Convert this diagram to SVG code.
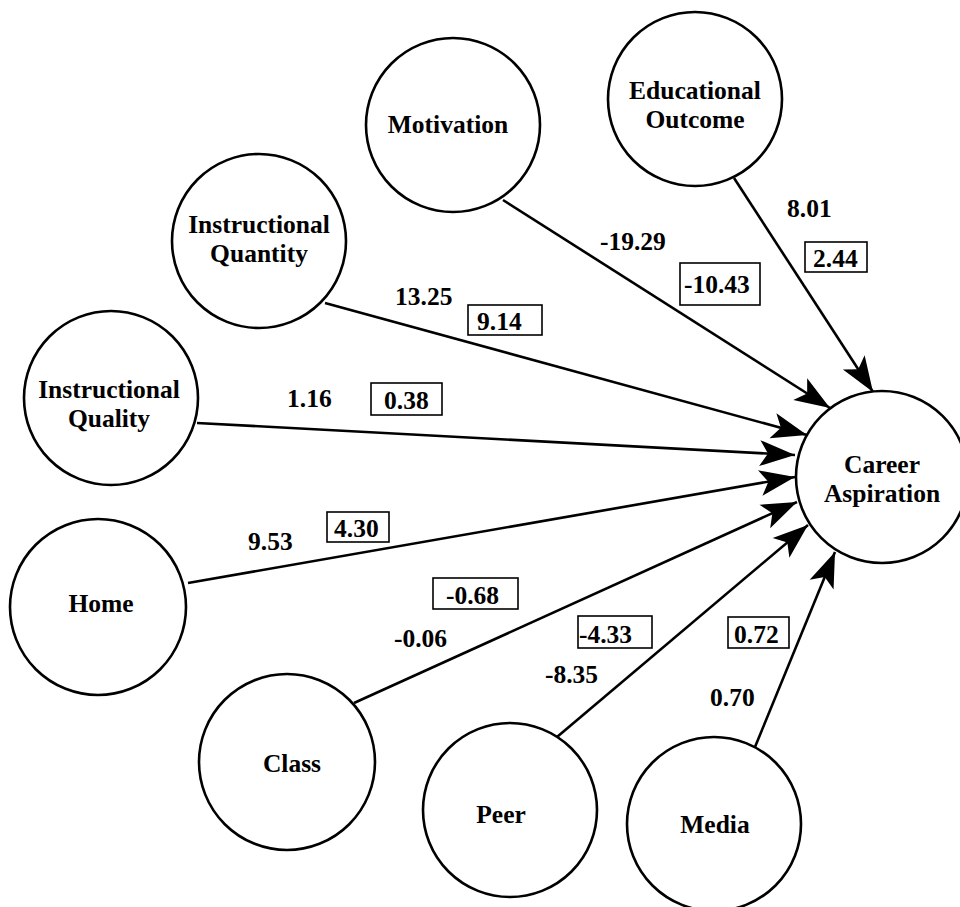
<svg xmlns="http://www.w3.org/2000/svg" width="960" height="907" viewBox="0 0 960 907">
<defs>
<style>
.node{fill:#fff;stroke:#000;stroke-width:2.6}
.lbl{font-family:'Liberation Serif','Times New Roman',Tinos,'DejaVu Serif',serif;font-weight:bold;font-size:25.5px;fill:#000;text-anchor:middle}
.num{font-family:'Liberation Serif','Times New Roman',Tinos,'DejaVu Serif',serif;font-weight:bold;font-size:25.5px;fill:#000}
.box{fill:#fff;stroke:#000;stroke-width:1.6}
.edge{stroke:#000;stroke-width:2.6;fill:none;marker-end:url(#arr)}
</style>
<marker id="arr" markerUnits="userSpaceOnUse" markerWidth="40" markerHeight="40" viewBox="-32 -14 34 28" refX="0" refY="0" orient="auto">
<path d="M0,0 L-30,-11 L-23,0 L-30,11 Z" fill="#000"/>
</marker>
</defs>
<rect width="960" height="907" fill="#fff"/>

<g id="connectors">
<line class="edge" x1="503" y1="200" x2="830" y2="408"/>
<line class="edge" x1="734" y1="178" x2="873" y2="392"/>
<line class="edge" x1="325" y1="303" x2="807" y2="435"/>
<line class="edge" x1="197" y1="423" x2="795" y2="455"/>
<line class="edge" x1="188" y1="583" x2="795" y2="477"/>
<line class="edge" x1="354" y1="703" x2="797" y2="502"/>
<line class="edge" x1="557" y1="737" x2="808" y2="525"/>
<line class="edge" x1="755" y1="747" x2="835" y2="552"/>
</g>

<g id="edge-labels">
<text class="num" x="395" y="305">13.25</text>
<rect class="box" x="468" y="305" width="74" height="30"/>
<text class="num" x="477" y="330">9.14</text>

<text class="num" x="287" y="407">1.16</text>
<rect class="box" x="371" y="383" width="71" height="32"/>
<text class="num" x="384" y="409">0.38</text>

<text class="num" x="600" y="250">-19.29</text>
<rect class="box" x="680" y="263" width="80" height="42"/>
<text class="num" x="684" y="293">-10.43</text>

<text class="num" x="787" y="217">8.01</text>
<rect class="box" x="805" y="242" width="62" height="30"/>
<text class="num" x="813" y="267">2.44</text>

<text class="num" x="248" y="550">9.53</text>
<rect class="box" x="327" y="512" width="62" height="30"/>
<text class="num" x="334" y="537">4.30</text>

<rect class="box" x="433" y="578" width="85" height="31"/>
<text class="num" x="446" y="604">-0.68</text>
<text class="num" x="394" y="647">-0.06</text>

<rect class="box" x="578" y="616" width="74" height="32"/>
<text class="num" x="579" y="643">-4.33</text>
<text class="num" x="545" y="683">-8.35</text>

<rect class="box" x="728" y="617" width="61" height="31"/>
<text class="num" x="734" y="643">0.72</text>
<text class="num" x="710" y="706">0.70</text>
</g>

<g id="motivation">
<circle class="node" cx="453" cy="125" r="87"/>
<text class="lbl" x="448" y="133">Motivation</text>
</g>
<g id="educational-outcome">
<circle class="node" cx="695" cy="99" r="87"/>
<text class="lbl" x="695" y="99">Educational</text>
<text class="lbl" x="695" y="128">Outcome</text>
</g>
<g id="instructional-quantity">
<circle class="node" cx="259" cy="241" r="87"/>
<text class="lbl" x="259" y="233">Instructional</text>
<text class="lbl" x="259" y="262">Quantity</text>
</g>
<g id="instructional-quality">
<circle class="node" cx="111" cy="398" r="87"/>
<text class="lbl" x="109" y="398">Instructional</text>
<text class="lbl" x="109" y="427">Quality</text>
</g>
<g id="home">
<circle class="node" cx="98" cy="607" r="88"/>
<text class="lbl" x="101" y="612">Home</text>
</g>
<g id="class">
<circle class="node" cx="287" cy="762" r="88"/>
<text class="lbl" x="292" y="772">Class</text>
</g>
<g id="peer">
<circle class="node" cx="510" cy="810" r="87"/>
<text class="lbl" x="501" y="823">Peer</text>
</g>
<g id="media">
<circle class="node" cx="714" cy="824" r="87"/>
<text class="lbl" x="715" y="833">Media</text>
</g>
<g id="career-aspiration">
<circle class="node" cx="882" cy="477" r="86"/>
<text class="lbl" x="882" y="473">Career</text>
<text class="lbl" x="882" y="502">Aspiration</text>
</g>
</svg>
